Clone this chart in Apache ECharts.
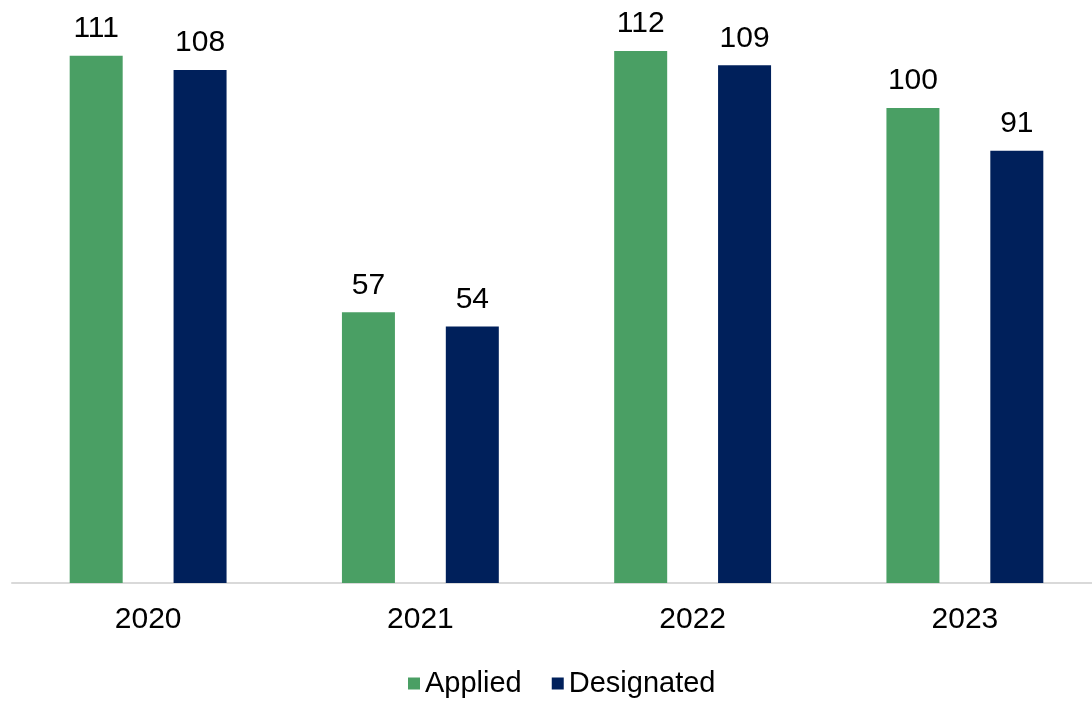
<!DOCTYPE html>
<html>
<head>
<meta charset="utf-8">
<script src="https://cdn.jsdelivr.net/npm/echarts@6/dist/echarts.min.js"></script>
<style>html,body{margin:0;padding:0;background:#fff;overflow:hidden;width:1092px;height:701px}#c{width:1101px;height:701px}</style>
</head>
<body>
<div id="c"></div>
<script>
const categories = ['2020', '2021', '2022', '2023'];
const applied = [111, 57, 112, 100];
const designated = [108, 54, 109, 91];

const chart = echarts.init(document.getElementById('c'));
const font = 'Liberation Sans, Arial, sans-serif';
chart.setOption({
  animation: false,
  grid: { left: 12, right: 0, top: 13, bottom: 118, containLabel: false },
  legend: {
    bottom: -2,
    left: 403,
    itemWidth: 12,
    itemHeight: 12,
    itemGap: 30,
    icon: 'rect',
    textStyle: { fontFamily: font, fontSize: 29, color: '#000' },
    data: ['Applied', 'Designated']
  },
  xAxis: {
    type: 'category',
    data: categories,
    axisLine: { lineStyle: { color: '#d9d9d9', width: 2 } },
    axisTick: { show: false },
    axisLabel: { fontFamily: font, fontSize: 30, color: '#000', margin: 22 }
  },
  yAxis: { type: 'value', min: 0, max: 120, show: false, splitLine: { show: false } },
  series: [
    {
      name: 'Applied', type: 'bar', data: applied, barWidth: 53, barGap: '96%',
      itemStyle: { color: '#4a9f64' },
      label: { show: true, position: 'top', distance: 12, fontFamily: font, fontSize: 30, color: '#000' }
    },
    {
      name: 'Designated', type: 'bar', data: designated, barWidth: 53,
      itemStyle: { color: '#00205b' },
      label: { show: true, position: 'top', distance: 12, fontFamily: font, fontSize: 30, color: '#000' }
    }
  ]
});
</script>
</body>
</html>
